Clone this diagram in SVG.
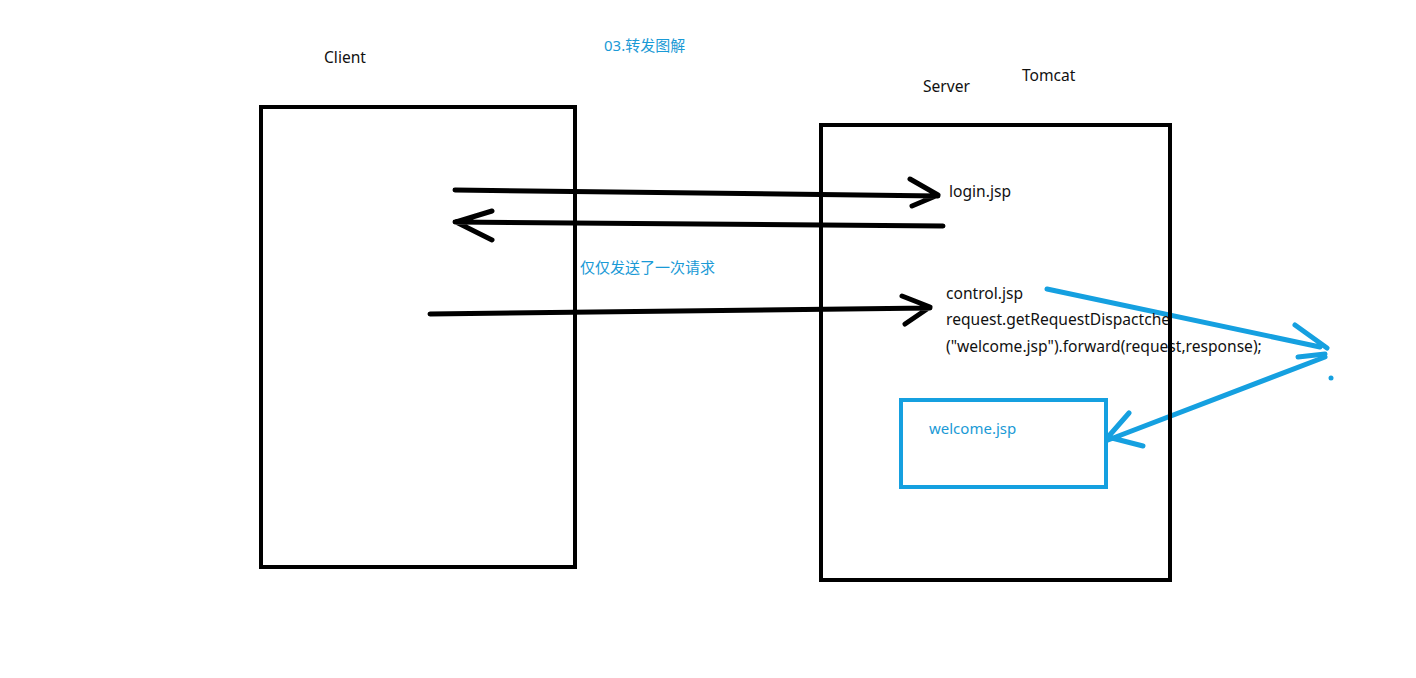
<svg xmlns="http://www.w3.org/2000/svg" width="1416" height="678" viewBox="0 0 1416 678">
<style>
.box{fill:none;stroke:#000;stroke-width:4}
.bbox{fill:none;stroke:#15a0e0;stroke-width:4}
.k{fill:none;stroke:#000;stroke-width:5;stroke-linecap:round;stroke-linejoin:round}
.b{fill:none;stroke:#15a0e0;stroke-width:5;stroke-linecap:round;stroke-linejoin:round}
.t{font-family:"Noto Sans","Noto Sans CJK SC",sans-serif;font-size:15.6px;fill:#111}
.tb{font-family:"Noto Sans","Noto Sans CJK SC",sans-serif;font-size:15px;fill:#1a9ad6}
</style>
<rect width="1416" height="678" fill="#fff"/>
<text class="tb" x="604" y="51">03.转发图解</text>
<g id="connectors">
<path class="k" d="M455 190 L938 196 M910 179 L938 195 L912 206"/>
<path class="k" d="M943 226 L455 222 M492 211 L456 222 L492 240"/>
<path class="k" d="M430 314 L930 308 M902 296 L930 307 L905 324"/>
<path class="b" d="M1047 289 L1320 347 M1295 325 L1327 348 M1298 357 L1325 354"/>
<path class="b" d="M1325 357 L1108 440 M1129 413 L1108 437 L1143 446"/>
<circle cx="1331" cy="378" r="2.5" fill="#15a0e0"/>
<text class="tb" x="580" y="273">仅仅发送了一次请求</text>
</g>
<g id="client">
<text class="t" x="324" y="63">Client</text>
<rect class="box" x="261" y="107" width="314" height="460"/>
</g>
<g id="server">
<text class="t" x="923" y="92">Server</text>
<text class="t" x="1022" y="81">Tomcat</text>
<text class="t" x="949" y="197">login.jsp</text>
<text class="t" x="946" y="299">control.jsp</text>
<text class="t" x="946" y="325">request.getRequestDispactche</text>
<text class="t" x="946" y="352">("welcome.jsp").forward(request,response);</text>
<rect class="box" x="821" y="125" width="349" height="455"/>
</g>
<g id="welcome">
<rect class="bbox" x="901" y="400" width="205" height="87"/>
<text class="tb" x="929" y="434">welcome.jsp</text>
</g>
</svg>
